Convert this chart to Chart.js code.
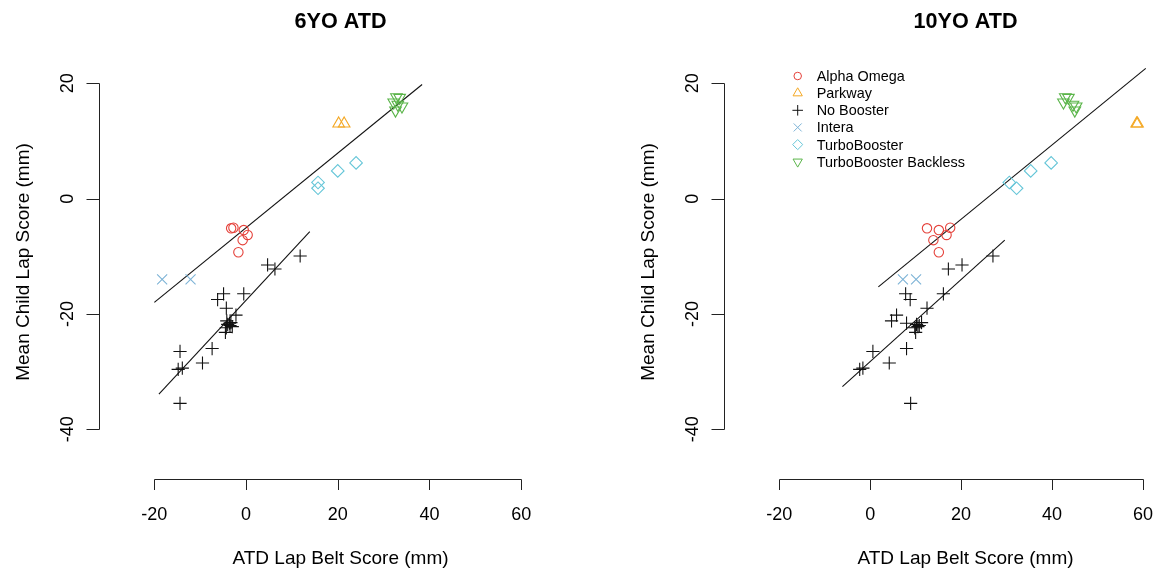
<!DOCTYPE html>
<html>
<head>
<meta charset="utf-8">
<title>ATD vs child lap belt scores</title>
<script src="https://cdn.jsdelivr.net/npm/chart.js@4.4.1/dist/chart.umd.min.js"></script>
<style>
  html, body { margin: 0; padding: 0; background: #fff; }
  #wrap { position: relative; width: 1166px; height: 569px; overflow: hidden; }
  .panel { position: absolute; top: 0; width: 583px; height: 569px; }
</style>
</head>
<body>
<div id="wrap">
  <div class="panel" style="left:0"><canvas id="c6" width="583" height="569"></canvas></div>
  <div class="panel" style="left:583px"><canvas id="c10" width="583" height="569"></canvas></div>
</div>
<script>
// ---- data ----------------------------------------------------------------
const groupNames = ['Alpha Omega', 'Parkway', 'No Booster', 'Intera', 'TurboBooster', 'TurboBooster Backless'];

// Mean child lap score (mm) per booster test, shared by both ATD panels
const childAlphaOmega = [-5.15, -5.05, -5.45, -6.3, -7.2, -9.3];
const childParkway    = [13.0, 13.0];
const childNoBooster  = [-9.95, -11.5, -12.2, -16.5, -16.5, -17.5, -19.0, -20.2, -21.2, -21.6, -21.5,
                         -21.8, -22.0, -22.4, -22.2, -23.2, -26.0, -26.5, -28.5, -29.6, -29.4, -35.5];
const childIntera     = [-14.0, -14.0];
const childTurbo      = [2.8, 1.8, 4.8, 6.2];
const childBackless   = [17.6, 17.5, 16.7, 16.3, 16.0, 15.3];

// ATD lap belt score (mm), 6YO dummy
const atd6AlphaOmega = [-3.25, -2.75, -0.5, 0.35, -0.74, -1.67];
const atd6Parkway    = [20.2, 21.4];
const atd6NoBooster  = [11.8, 4.7, 6.3, -4.9, -0.5, -6.2, -4.3, -2.2, -4.2, -3.6, -3.3,
                        -4.0, -3.5, -4.3, -3.0, -4.5, -7.4, -14.4, -9.5, -14.8, -13.9, -14.4];
const atd6Intera     = [-18.3, -12.1];
const atd6Turbo      = [15.7, 15.7, 20.0, 24.0];
const atd6Backless   = [32.8, 33.5, 32.2, 33.1, 34.0, 32.6];

// ATD lap belt score (mm), 10YO dummy
const atd10AlphaOmega = [12.5, 17.6, 15.1, 16.8, 13.9, 15.1];
const atd10Parkway    = [58.6, 58.8];
const atd10NoBooster  = [27.0, 20.2, 17.2, 7.8, 16.1, 8.8, 12.5, 5.8, 4.7, 8.0, 11.3,
                         10.2, 10.8, 9.8, 10.5, 10.0, 8.0, 0.6, 4.2, -2.3, -1.6, 8.9];
const atd10Intera     = [7.2, 10.1];
const atd10Turbo      = [30.6, 32.2, 35.3, 39.8];
const atd10Backless   = [42.9, 43.6, 42.5, 44.6, 45.3, 45.0];

// Fitted lines (end points): booster fit and no-booster fit
const fit6BoosterX  = [-20.0, 38.4];  const fit6BoosterY  = [-18.0, 19.8];
const fit6NoneX     = [-19.0, 13.9];  const fit6NoneY     = [-33.9, -5.7];
const fit10BoosterX = [1.8, 60.6];    const fit10BoosterY = [-15.3, 22.6];
const fit10NoneX    = [-6.1, 29.6];   const fit10NoneY    = [-32.6, -7.2];

// Axis ticks
const xTickValues = [-20, 0, 20, 40, 60];
const yTickValues = [-40, -20, 0, 20];
const xTickLabels = ['-20', '0', '20', '40', '60'];
const yTickLabels = ['-40', '-20', '0', '20'];

// ---- styling -------------------------------------------------------------
const FONT = '"Liberation Sans", Arial, Helvetica, sans-serif';
const groupStyles = [
  { color: '#E5423B', pointStyle: 'circle',   radius: 4.7, rotation: 0 },
  { color: '#F4A824', pointStyle: 'triangle', radius: 6.7, rotation: 0 },
  { color: '#111111', pointStyle: 'cross',    radius: 6.6, rotation: 0 },
  { color: '#7DB3D6', pointStyle: 'crossRot', radius: 7.1, rotation: 0 },
  { color: '#66C6D8', pointStyle: 'rectRot',  radius: 6.3, rotation: 0 },
  { color: '#5BB54A', pointStyle: 'triangle', radius: 6.7, rotation: 180 }
];

function pairs(xs, ys) { return xs.map((v, i) => ({ x: v, y: ys[i] })); }

function buildDatasets(atd, fitA, fitB) {
  const child = [childAlphaOmega, childParkway, childNoBooster, childIntera, childTurbo, childBackless];
  const sets = groupNames.map((name, g) => ({
    label: name,
    data: pairs(atd[g], child[g]),
    pointStyle: groupStyles[g].pointStyle,
    rotation: groupStyles[g].rotation,
    pointRadius: groupStyles[g].radius,
    pointBorderWidth: 1.1,
    borderColor: groupStyles[g].color,
    backgroundColor: 'rgba(0,0,0,0)',
    pointBackgroundColor: 'rgba(0,0,0,0)'
  }));
  [fitA, fitB].forEach(f => sets.push({
    type: 'line',
    label: 'fit',
    data: pairs(f[0], f[1]),
    borderColor: '#111',
    borderWidth: 1.1,
    pointRadius: 0,
    fill: false
  }));
  return sets;
}

// R-style detached axes, titles and legend drawn from the chart's scales
function baseGraphics(titleText, withLegend) {
  return {
    id: 'baseGraphics',
    afterDraw(chart) {
      const { ctx, chartArea: a, scales: { x, y } } = chart;
      const midX = a.left + 241.5;          // centre of the plotting region
      ctx.save();
      ctx.strokeStyle = '#222';
      ctx.fillStyle = '#000';
      ctx.lineWidth = 1;

      // x axis
      const yb = Math.round(a.bottom) + 0.5;
      ctx.beginPath();
      ctx.moveTo(Math.round(x.getPixelForValue(xTickValues[0])) + 0.5, yb);
      ctx.lineTo(Math.round(x.getPixelForValue(xTickValues[xTickValues.length - 1])) + 0.5, yb);
      xTickValues.forEach(v => {
        const px = Math.round(x.getPixelForValue(v)) + 0.5;
        ctx.moveTo(px, yb); ctx.lineTo(px, yb + 10.5);
      });
      ctx.stroke();
      ctx.font = '18px ' + FONT;
      ctx.textAlign = 'center';
      ctx.textBaseline = 'alphabetic';
      xTickValues.forEach((v, i) => ctx.fillText(xTickLabels[i], x.getPixelForValue(v), a.bottom + 41));
      ctx.font = '19px ' + FONT;
      ctx.fillText('ATD Lap Belt Score (mm)', midX, a.bottom + 85);

      // y axis
      const xl = Math.round(a.left) + 0.5;
      ctx.beginPath();
      ctx.moveTo(xl, Math.round(y.getPixelForValue(yTickValues[0])) + 0.5);
      ctx.lineTo(xl, Math.round(y.getPixelForValue(yTickValues[yTickValues.length - 1])) + 0.5);
      yTickValues.forEach(v => {
        const py = Math.round(y.getPixelForValue(v)) + 0.5;
        ctx.moveTo(xl, py); ctx.lineTo(xl - 13, py);
      });
      ctx.stroke();
      ctx.font = '18px ' + FONT;
      yTickValues.forEach((v, i) => {
        ctx.save();
        ctx.translate(a.left - 26, y.getPixelForValue(v));
        ctx.rotate(-Math.PI / 2);
        ctx.fillText(yTickLabels[i], 0, 0);
        ctx.restore();
      });
      ctx.font = '19px ' + FONT;
      ctx.save();
      ctx.translate(a.left - 70, 262);
      ctx.rotate(-Math.PI / 2);
      ctx.fillText('Mean Child Lap Score (mm)', 0, 0);
      ctx.restore();

      // main title
      ctx.font = 'bold 21.6px ' + FONT;
      ctx.fillText(titleText, midX, 28.3);

      // legend
      if (withLegend) {
        const symX = a.left + 73.7, txtX = a.left + 92.7;
        ctx.font = '14.4px ' + FONT;
        ctx.textAlign = 'left';
        ctx.textBaseline = 'middle';
        groupNames.forEach((name, g) => {
          const rowY = a.top + 16 + g * 17.15;
          const st = groupStyles[g];
          ctx.strokeStyle = st.color;
          ctx.fillStyle = 'rgba(0,0,0,0)';
          ctx.lineWidth = 1;
          Chart.helpers.drawPoint(ctx, {
            pointStyle: st.pointStyle, rotation: st.rotation,
            radius: st.radius * 0.8, borderWidth: 1
          }, symX, rowY);
          ctx.fillStyle = '#000';
          ctx.fillText(name, txtX, rowY + 1);
        });
      }
      ctx.restore();
    }
  };
}

function makePanel(canvasId, datasets, xMin, xMax, padLeft, padRight, titleText, withLegend) {
  return new Chart(document.getElementById(canvasId), {
    type: 'scatter',
    data: { datasets },
    options: {
      responsive: false,
      animation: false,
      devicePixelRatio: 1,
      layout: { padding: { left: padLeft, right: padRight, top: 60, bottom: 89.7 } },
      plugins: { legend: { display: false }, tooltip: { enabled: false }, title: { display: false } },
      scales: {
        x: { type: 'linear', display: false, bounds: 'data', min: xMin, max: xMax },
        y: { type: 'linear', display: false, bounds: 'data', min: -48.67, max: 24.04 }
      }
    },
    plugins: [baseGraphics(titleText, withLegend)]
  });
}

makePanel('c6',
  buildDatasets([atd6AlphaOmega, atd6Parkway, atd6NoBooster, atd6Intera, atd6Turbo, atd6Backless],
                [fit6BoosterX, fit6BoosterY], [fit6NoneX, fit6NoneY]),
  -32.07, 71.7, 99, 3, '6YO ATD', false);

makePanel('c10',
  buildDatasets([atd10AlphaOmega, atd10Parkway, atd10NoBooster, atd10Intera, atd10Turbo, atd10Backless],
                [fit10BoosterX, fit10BoosterY], [fit10NoneX, fit10NoneY]),
  -32.14, 63.25, 141, 0, '10YO ATD', true);
</script>
</body>
</html>
